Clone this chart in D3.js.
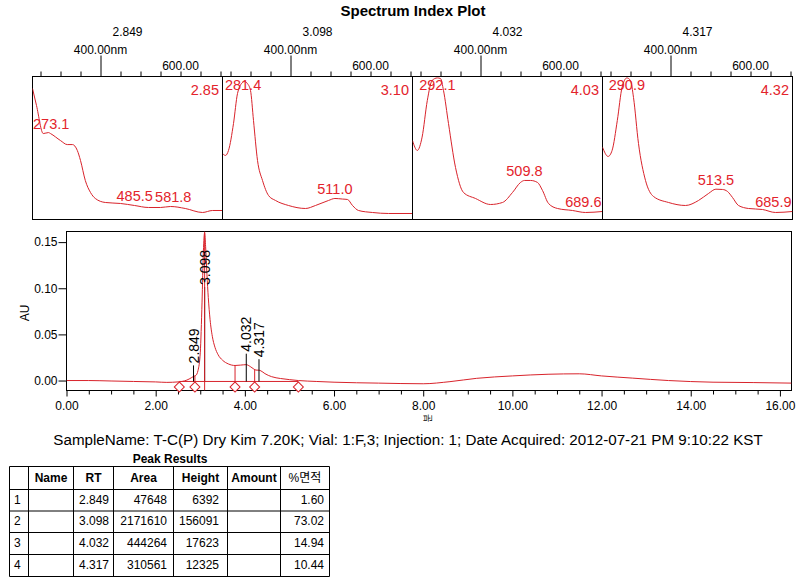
<!DOCTYPE html>
<html><head><meta charset="utf-8">
<script src="https://cdn.jsdelivr.net/npm/d3@7"></script>
<style>
body{margin:0;background:#fff}
svg{display:block}
text{font-family:"Liberation Sans",Arial,"Noto Sans CJK KR",sans-serif}
</style>
</head><body>
<svg id="c" width="805" height="585"></svg>
<script>
// ---------------- DATA ----------------
const title = "Spectrum Index Plot";
const specRT = ["2.849", "3.098", "4.032", "4.317"];
const specRTShort = ["2.85", "3.10", "4.03", "4.32"];
const wlTicks = [250, 300, 350, 400, 450, 500, 550, 600, 650, 700];

const spec1Nm  = [230, 240, 257, 270, 275, 300, 317, 330, 342, 350, 362, 375, 387, 412, 450, 485, 520, 550, 575, 612, 655, 680, 705];
const spec1Abs = [0.916, 0.797, 0.601, 0.608, 0.601, 0.552, 0.524, 0.524, 0.483, 0.413, 0.273, 0.189, 0.147, 0.119, 0.112, 0.098, 0.084, 0.084, 0.091, 0.077, 0.049, 0.063, 0.063];
const spec1Peaks = [273.1, 485.5, 581.8];

const spec2Nm  = [231, 237.5, 245, 257.5, 267.5, 280, 285, 292.5, 300, 307.5, 317.5, 330, 345, 362.5, 395, 437.5, 462.5, 495, 511, 530, 542.5, 555, 570, 605, 645, 705];
const spec2Abs = [0.459, 0.448, 0.483, 0.671, 0.881, 0.958, 0.965, 0.950, 0.902, 0.692, 0.413, 0.273, 0.168, 0.133, 0.098, 0.077, 0.098, 0.133, 0.147, 0.143, 0.140, 0.098, 0.063, 0.049, 0.042, 0.042];
const spec2Peaks = [281.4, 511.0];

const spec3Nm  = [230, 242, 254, 267, 279, 292, 300, 307.5, 320, 337.5, 357.5, 387.5, 425, 455, 480, 500, 510, 525, 542.5, 555, 570, 592.5, 630, 662.5, 705];
const spec3Abs = [0.552, 0.483, 0.576, 0.832, 0.972, 0.990, 0.986, 0.902, 0.671, 0.364, 0.189, 0.147, 0.105, 0.119, 0.189, 0.259, 0.273, 0.273, 0.259, 0.203, 0.112, 0.077, 0.063, 0.049, 0.056];
const spec3Peaks = [292.1, 509.8, 689.6];

const spec4Nm  = [230, 244, 254, 267, 279, 291, 300, 307.5, 320, 337.5, 357.5, 395, 437.5, 470, 495, 513.5, 530, 542.5, 555, 570, 595, 630, 662.5, 705];
const spec4Abs = [0.506, 0.441, 0.483, 0.692, 0.925, 0.990, 0.972, 0.853, 0.531, 0.273, 0.161, 0.119, 0.098, 0.133, 0.182, 0.212, 0.210, 0.196, 0.154, 0.098, 0.077, 0.070, 0.049, 0.056];
const spec4Peaks = [290.9, 513.5, 685.9];

const chromT  = [0, 0.5, 1.0, 1.5, 2.0, 2.25, 2.5, 2.7, 2.8, 2.85, 2.9, 2.95, 3.0, 3.04, 3.07, 3.098, 3.12, 3.15, 3.18, 3.22, 3.27, 3.33, 3.4, 3.5, 3.63, 3.78, 3.9, 4.03, 4.12, 4.2, 4.25, 4.317, 4.36, 4.45, 4.6, 4.8, 5.0, 5.2, 5.6, 6.0, 7.0, 8.0, 8.6, 9.2, 10.0, 10.8, 11.5, 12.0, 12.7, 13.5, 14.5, 15.4, 16.26];
const chromAU = [0, 0, -0.0005, -0.001, -0.0015, -0.002, -0.0015, 0.0005, 0.003, 0.0045, 0.0055, 0.011, 0.03, 0.085, 0.14, 0.160, 0.145, 0.115, 0.09, 0.066, 0.048, 0.036, 0.028, 0.022, 0.018, 0.0163, 0.0167, 0.0172, 0.0152, 0.0125, 0.0113, 0.0112, 0.0105, 0.0075, 0.0042, 0.0022, 0.001, 0, -0.001, -0.0018, -0.0028, -0.0035, -0.0012, 0.0024, 0.005, 0.0068, 0.0073, 0.005, 0.0026, 0, -0.0018, -0.0022, -0.0028];

const auTicks = [0, 0.05, 0.10, 0.15];
const timeTicks = [0, 2, 4, 6, 8, 10, 12, 14, 16];
const integBaseline = -0.001;
const boundaryT = [2.53, 2.88, 3.78, 4.22, 5.2];
const valleyT = [2.88, 3.78, 4.22];

const peakNo = [1, 2, 3, 4];
const peakRT = [2.849, 3.098, 4.032, 4.317];
const peakArea = [47648, 2171610, 444264, 310561];
const peakHeight = [6392, 156091, 17623, 12325];
const peakPct = [1.60, 73.02, 14.94, 10.44];
const tableHeaders = ["", "Name", "RT", "Area", "Height", "Amount", "%면적"];

const sampleLine = "SampleName: T-C(P) Dry Kim 7.20K; Vial: 1:F,3; Injection: 1; Date Acquired: 2012-07-21 PM 9:10:22 KST";

// ---------------- DRAW ----------------
const RED = "#d8232b", TXT_RED = "#e3232c";
const svg = d3.select("#c");
svg.append("rect").attr("width", 805).attr("height", 585).attr("fill", "#fff");

svg.append("text").attr("x", 413).attr("y", 15.5).attr("text-anchor", "middle")
  .attr("font-size", 15).attr("font-weight", "bold").text(title);

function interp(xs, ys, v) {
  const i = Math.max(1, Math.min(xs.length - 1, d3.bisectLeft(xs, v)));
  const t = (v - xs[i - 1]) / (xs[i] - xs[i - 1]);
  return ys[i - 1] + t * (ys[i] - ys[i - 1]);
}

const spectra = [
  {nm: spec1Nm, abs: spec1Abs, peaks: spec1Peaks},
  {nm: spec2Nm, abs: spec2Abs, peaks: spec2Peaks},
  {nm: spec3Nm, abs: spec3Abs, peaks: spec3Peaks},
  {nm: spec4Nm, abs: spec4Abs, peaks: spec4Peaks}
];
const pLefts = [32.5, 222.5, 412.5, 602.5], pW = 190, pTop = 76.5, pBot = 219.5;

spectra.forEach((s, k) => {
  const L = pLefts[k], R = L + pW;
  const xs = d3.scaleLinear().domain([230, 705]).range([L, R]);
  const ys = d3.scaleLinear().domain([0, 1]).range([pBot, pTop]);
  const g = svg.append("g");
  const cid = "clipP" + k;
  svg.append("clipPath").attr("id", cid).append("rect")
    .attr("x", L).attr("y", pTop).attr("width", pW).attr("height", pBot - pTop);

  // top axis
  const ax = g.append("g").attr("transform", `translate(0,${pTop})`)
    .call(d3.axisTop(xs).tickValues(wlTicks).tickSize(5).tickFormat(""));
  ax.select(".domain").remove();
  ax.selectAll(".tick line").attr("stroke", "#000")
    .filter(d => d === 400).attr("y2", -21);
  g.append("text").attr("x", xs(400)).attr("y", 54).attr("text-anchor", "middle")
    .attr("font-size", 12).text("400.00nm");
  g.append("text").attr("x", xs(600)).attr("y", 70).attr("text-anchor", "middle")
    .attr("font-size", 12).text("600.00");
  g.append("text").attr("x", (L + R) / 2).attr("y", 35.5).attr("text-anchor", "middle")
    .attr("font-size", 12).text(specRT[k]);

  // frame
  g.append("rect").attr("x", L).attr("y", pTop).attr("width", pW).attr("height", pBot - pTop)
    .attr("fill", "none").attr("stroke", "#000");

  // spectrum
  const line = d3.line().x((d, i) => xs(s.nm[i])).y((d, i) => ys(s.abs[i])).curve(d3.curveMonotoneX);
  g.append("path").attr("clip-path", `url(#${cid})`).attr("d", line(s.nm))
    .attr("fill", "none").attr("stroke", RED).attr("stroke-width", 1);

  // RT label
  g.append("text").attr("x", R - 3.5).attr("y", 94.5).attr("text-anchor", "end")
    .attr("font-size", 14.5).attr("fill", TXT_RED).text(specRTShort[k]);

  // peak labels
  s.peaks.forEach(p => {
    const v = interp(s.nm, s.abs, p);
    const yb = Math.max(ys(v) - 4.5, pTop + 13);
    const t = g.append("text").attr("y", yb).attr("font-size", 14.5).attr("fill", TXT_RED)
      .text(p.toFixed(1));
    const w = t.node().getComputedTextLength();
    let cx = xs(p);
    let x0 = Math.max(L + 0.5, Math.min(R - 1 - w, cx - w / 2));
    t.attr("x", x0);
  });
});

// ---------------- CHROMATOGRAM ----------------
const cL = 66.5, cR = 791.5, cT = 231.5, cB = 390.5;
const x = d3.scaleLinear().domain([0, 16.26]).range([cL, cR]);
const y = d3.scaleLinear().domain([-0.0108, 0.1615]).range([cB, cT]);

svg.append("clipPath").attr("id", "clipC").append("rect")
  .attr("x", cL).attr("y", cT).attr("width", cR - cL).attr("height", cB - cT);

const cg = svg.append("g");

// y axis
const yAx = cg.append("g").attr("transform", `translate(${cL},0)`)
  .call(d3.axisLeft(y).tickValues(auTicks).tickSize(8).tickPadding(1).tickFormat(d3.format(".2f")));
yAx.attr("font-size", 12).attr("font-family", null);
yAx.select(".domain").remove();

// x axis
const minor = d3.range(0, 16.26, 0.5).filter(v => Math.abs(v % 2) > 1e-9);
const xMin = cg.append("g").attr("transform", `translate(0,${cB})`)
  .call(d3.axisBottom(x).tickValues(minor).tickSize(4).tickFormat(""));
xMin.select(".domain").remove();
const xAx = cg.append("g").attr("transform", `translate(0,${cB})`)
  .call(d3.axisBottom(x).tickValues(timeTicks).tickSize(6).tickPadding(5).tickFormat(d3.format(".2f")));
xAx.attr("font-size", 12).attr("font-family", null);
xAx.select(".domain").remove();

// frame
cg.append("rect").attr("x", cL).attr("y", cT).attr("width", cR - cL).attr("height", cB - cT)
  .attr("fill", "none").attr("stroke", "#000");

// axis titles
cg.append("text").attr("transform", "translate(29,313) rotate(-90)").attr("text-anchor", "middle")
  .attr("font-size", 12).text("AU");
cg.append("text").attr("transform", "translate(431,418) rotate(-90)").attr("text-anchor", "middle")
  .attr("font-size", 9).text("분");

const pg = cg.append("g").attr("clip-path", "url(#clipC)");

// integration baseline
pg.append("line").attr("x1", x(boundaryT[0])).attr("x2", x(boundaryT[boundaryT.length - 1]))
  .attr("y1", y(integBaseline)).attr("y2", y(integBaseline)).attr("stroke", RED);

// trace
const cline = d3.line().x((d, i) => x(chromT[i])).y((d, i) => y(chromAU[i])).curve(d3.curveMonotoneX);
pg.append("path").attr("d", cline(chromT)).attr("fill", "none").attr("stroke", RED).attr("stroke-width", 1);

const markY = y(integBaseline) + 5.5;
// valley drop lines
valleyT.forEach(t => {
  pg.append("line").attr("x1", x(t)).attr("x2", x(t))
    .attr("y1", y(interp(chromT, chromAU, t))).attr("y2", markY).attr("stroke", RED);
});

// peak labels + lines
peakRT.forEach((rt, i) => {
  const px = x(rt);
  const apexY = y(interp(chromT, chromAU, rt));
  const lb = Math.max(apexY - 13, cT + 53.5);
  pg.append("line").attr("x1", px).attr("x2", px).attr("y1", lb + 2).attr("y2", y(integBaseline))
    .attr("stroke", "#000");
  if (i === 1) {
    pg.append("line").attr("x1", px).attr("x2", px).attr("y1", cT).attr("y2", cB).attr("stroke", RED);
  }
  cg.append("text").attr("transform", `translate(${px},${lb}) rotate(-90)`).attr("dy", "0.36em")
    .attr("font-size", 14).attr("fill", "#000").text(rt.toFixed(3));
});

// boundary diamonds
const sym = d3.symbol().type(d3.symbolSquare).size(50);
boundaryT.forEach(t => {
  cg.append("path").attr("d", sym()).attr("transform", `translate(${x(t)},${markY}) rotate(45)`)
    .attr("fill", "#fff").attr("stroke", RED);
});

// ---------------- TEXT + TABLE ----------------
svg.append("text").attr("x", 408).attr("y", 445).attr("text-anchor", "middle")
  .attr("font-size", 15.2).text(sampleLine);
svg.append("text").attr("x", 170).attr("y", 463.3).attr("text-anchor", "middle")
  .attr("font-size", 12).attr("font-weight", "bold").text("Peak Results");

const colX = [9.5, 28.5, 73.5, 113.5, 173.5, 227.5, 280.5, 329.5];
const rowY = [466.5, 489.5, 511, 532.5, 554.5, 576.5];
const tg = svg.append("g").attr("stroke", "#000").attr("stroke-width", 1);
colX.forEach(cx => tg.append("line").attr("x1", cx).attr("x2", cx).attr("y1", rowY[0]).attr("y2", rowY[rowY.length - 1]));
rowY.forEach(ry => tg.append("line").attr("x1", colX[0]).attr("x2", colX[colX.length - 1]).attr("y1", ry).attr("y2", ry));

tableHeaders.forEach((h, j) => {
  if (!h) return;
  svg.append("text").attr("x", (colX[j] + colX[j + 1]) / 2).attr("y", rowY[0] + 15.5)
    .attr("text-anchor", "middle").attr("font-size", 12)
    .attr("font-weight", j === 6 ? "normal" : "bold").text(h);
});
const pads = [0, 0, 4.5, 6.5, 8.5, 0, 5.5];
peakNo.forEach((n, i) => {
  const by = rowY[i + 1] + 14;
  svg.append("text").attr("x", colX[0] + 4.5).attr("y", by).attr("font-size", 12).text(n);
  const cells = [null, null, peakRT[i].toFixed(3), peakArea[i], peakHeight[i], null, peakPct[i].toFixed(2)];
  cells.forEach((c, j) => {
    if (c === null) return;
    svg.append("text").attr("x", colX[j + 1] - pads[j]).attr("y", by).attr("text-anchor", "end")
      .attr("font-size", 12).text(c);
  });
});
</script>
</body></html>
